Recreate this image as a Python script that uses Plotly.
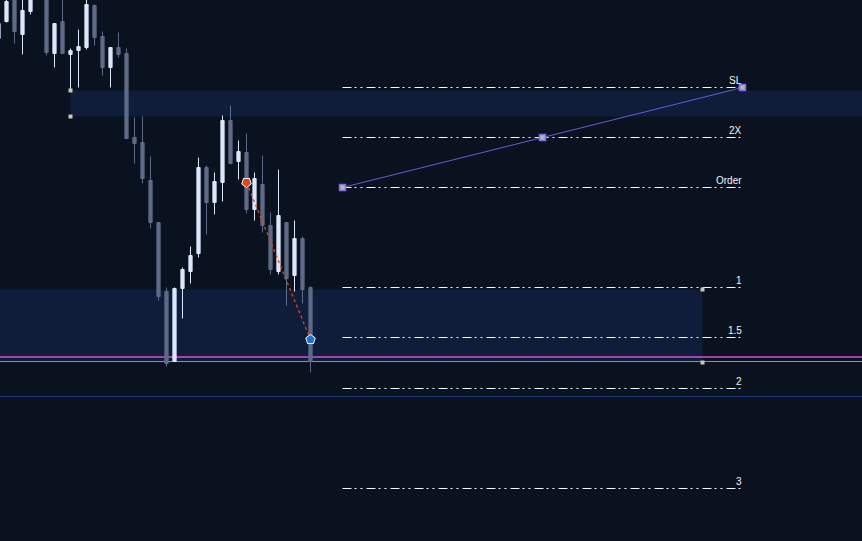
import plotly.graph_objects as go

# ---- data ----
idx = list(range(40))
opens = [1996.2, 1997.9, 2000.5, 1996.6, 1998.9, 2000.9, 2000.8, 1994.7, 1997.9, 1994.6,
         1995.0, 1995.3, 1999.5, 1996.4, 1993.3, 1995.3, 1994.7, 1986.3, 1985.8, 1982.0,
         1977.8, 1970.9, 1963.9, 1971.2, 1972.9, 1974.7, 1983.3, 1979.8, 1981.8, 1988.0,
         1983.9, 1984.8, 1979.1, 1981.6, 1977.5, 1972.9, 1977.8, 1972.5, 1976.2, 1971.3]
highs = [1997.9, 2000.3, 2000.8, 2000.4, 2000.6, 2001.5, 2001.0, 1997.7, 2000.3, 1995.2,
         1997.1, 2000.2, 1999.6, 1996.9, 1995.3, 1996.8, 1995.2, 1988.3, 1988.4, 1984.4,
         1977.8, 1971.3, 1971.3, 1973.3, 1975.4, 1984.3, 1983.5, 1982.8, 1988.5, 1989.5,
         1986.0, 1986.7, 1982.8, 1984.5, 1978.8, 1983.1, 1977.8, 1978.0, 1976.4, 1971.4]
lows = [1996.0, 1997.8, 1995.7, 1994.6, 1998.6, 2000.3, 1994.5, 1993.3, 1994.7, 1991.0,
        1991.3, 1995.1, 1995.5, 1992.5, 1991.3, 1994.3, 1986.2, 1983.7, 1981.7, 1977.2,
        1970.0, 1963.4, 1963.9, 1968.2, 1971.7, 1974.3, 1976.6, 1978.6, 1979.9, 1983.6,
        1982.1, 1978.7, 1978.0, 1976.8, 1972.6, 1972.6, 1969.5, 1970.9, 1969.7, 1962.8]
closes = [1997.7, 1999.9, 1996.9, 1999.0, 2000.2, 2001.2, 1994.8, 1997.7, 1994.7, 1995.0,
          1995.4, 1999.6, 1996.3, 1993.3, 1995.3, 1994.6, 1986.2, 1985.7, 1982.2, 1977.8,
          1970.4, 1963.7, 1971.2, 1973.1, 1974.5, 1983.3, 1979.8, 1981.9, 1988.0, 1983.7,
          1984.9, 1979.1, 1982.2, 1977.5, 1973.1, 1978.5, 1972.2, 1976.2, 1971.1, 1963.9]

level_labels = ["SL", "2X", "Order", "1", "1.5", "2", "3"]
level_prices = [1991.3, 1986.3, 1981.3, 1971.3, 1966.3, 1961.2, 1951.2]
level_start = 43
level_end = 93

trade_x = [43, 68, 93]
trade_y = [1981.3, 1986.3, 1991.3]

upper_zone = dict(x0=9, x1=120, y0=1988.4, y1=1991.0)
lower_zone = dict(x0=-5, x1=88, y0=1963.8, y1=1971.1)
zone_corner_x = [9, 9, 88, 88]
zone_corner_y = [1991.0, 1988.4, 1971.1, 1963.8]

magenta_price = 1964.35
grey_price = 1963.9
blue_price = 1960.4

sell_x, sell_y = 31, 1981.8
buy_x, buy_y = 39, 1966.1

BG = "#0b121f"
ZONE = "#0f1d3a"
UP = "#dce7fb"
DOWN = "#5e6b86"
LEVEL = "#eef9f9"

fig = go.Figure()

fig.add_trace(go.Candlestick(
    x=idx, open=opens, high=highs, low=lows, close=closes,
    increasing=dict(line=dict(color=UP, width=1), fillcolor=UP),
    decreasing=dict(line=dict(color=DOWN, width=1), fillcolor=DOWN),
    whiskerwidth=0, hoverinfo="skip", showlegend=False,
))

for lab, p in zip(level_labels, level_prices):
    fig.add_trace(go.Scatter(
        x=[level_start, level_end], y=[p, p], mode="lines",
        line=dict(color=LEVEL, width=1, dash="9px,3px,2px,4px,2px,4px"),
        hoverinfo="skip", showlegend=False,
    ))
    fig.add_annotation(x=level_end, y=p, text=lab, showarrow=False,
                       xanchor="right", yanchor="bottom", xshift=1, yshift=0,
                       font=dict(family="Liberation Sans", size=10, color="#f2f6f6"))

# trade line
fig.add_trace(go.Scatter(
    x=trade_x, y=trade_y, mode="lines+markers",
    line=dict(color="#6a5ad8", width=1),
    marker=dict(symbol="square", size=6, color="#b9b4a6",
                line=dict(color="#7b6cf0", width=1.5)),
    hoverinfo="skip", showlegend=False,
))

# zone corner handles
fig.add_trace(go.Scatter(
    x=zone_corner_x, y=zone_corner_y, mode="markers",
    marker=dict(symbol="square", size=4, color="#c9c6b4"),
    hoverinfo="skip", showlegend=False,
))

# signal dashed line
fig.add_trace(go.Scatter(
    x=[sell_x, buy_x], y=[sell_y, buy_y], mode="lines",
    line=dict(color="#e5441b", width=1.3, dash="3px,3px"),
    hoverinfo="skip", showlegend=False,
))
fig.add_trace(go.Scatter(
    x=[sell_x], y=[sell_y], mode="markers",
    marker=dict(symbol="pentagon", angle=180, size=10, color="#e5441b",
                line=dict(color="#ffffff", width=1)),
    hoverinfo="skip", showlegend=False,
))
fig.add_trace(go.Scatter(
    x=[buy_x], y=[buy_y], mode="markers",
    marker=dict(symbol="pentagon", size=10, color="#1e6fd0",
                line=dict(color="#ffffff", width=1)),
    hoverinfo="skip", showlegend=False,
))

shapes = [
    dict(type="rect", xref="x", yref="y", layer="below", fillcolor=ZONE,
         line=dict(width=0), **upper_zone),
    dict(type="rect", xref="x", yref="y", layer="below", fillcolor=ZONE,
         line=dict(width=0), **lower_zone),
    dict(type="line", xref="x", yref="y", x0=-10, x1=130, y0=grey_price, y1=grey_price,
         layer="below", line=dict(color="#8a93a5", width=1)),
    dict(type="line", xref="x", yref="y", x0=-10, x1=130, y0=magenta_price, y1=magenta_price,
         layer="below", line=dict(color="#d94fd9", width=1.3)),
    dict(type="line", xref="x", yref="y", x0=-10, x1=130, y0=blue_price, y1=blue_price,
         layer="below", line=dict(color="#1d3b78", width=1)),
]

fig.update_layout(
    width=862, height=541,
    margin=dict(l=0, r=0, t=0, b=0),
    paper_bgcolor=BG, plot_bgcolor=BG,
    shapes=shapes,
    boxgap=0.42,
    showlegend=False,
    xaxis=dict(range=[0.1875, 107.9375], visible=False, showgrid=False,
               zeroline=False, rangeslider=dict(visible=False), fixedrange=True),
    yaxis=dict(range=[1945.95, 2000.05], visible=False, showgrid=False,
               zeroline=False, fixedrange=True),
)

fig.write_html(
    "out.html",
    config={"displayModeBar": False},
    post_script="document.body.style.margin='0';document.body.style.background='#0b121f';document.body.style.overflow='hidden';",
)
